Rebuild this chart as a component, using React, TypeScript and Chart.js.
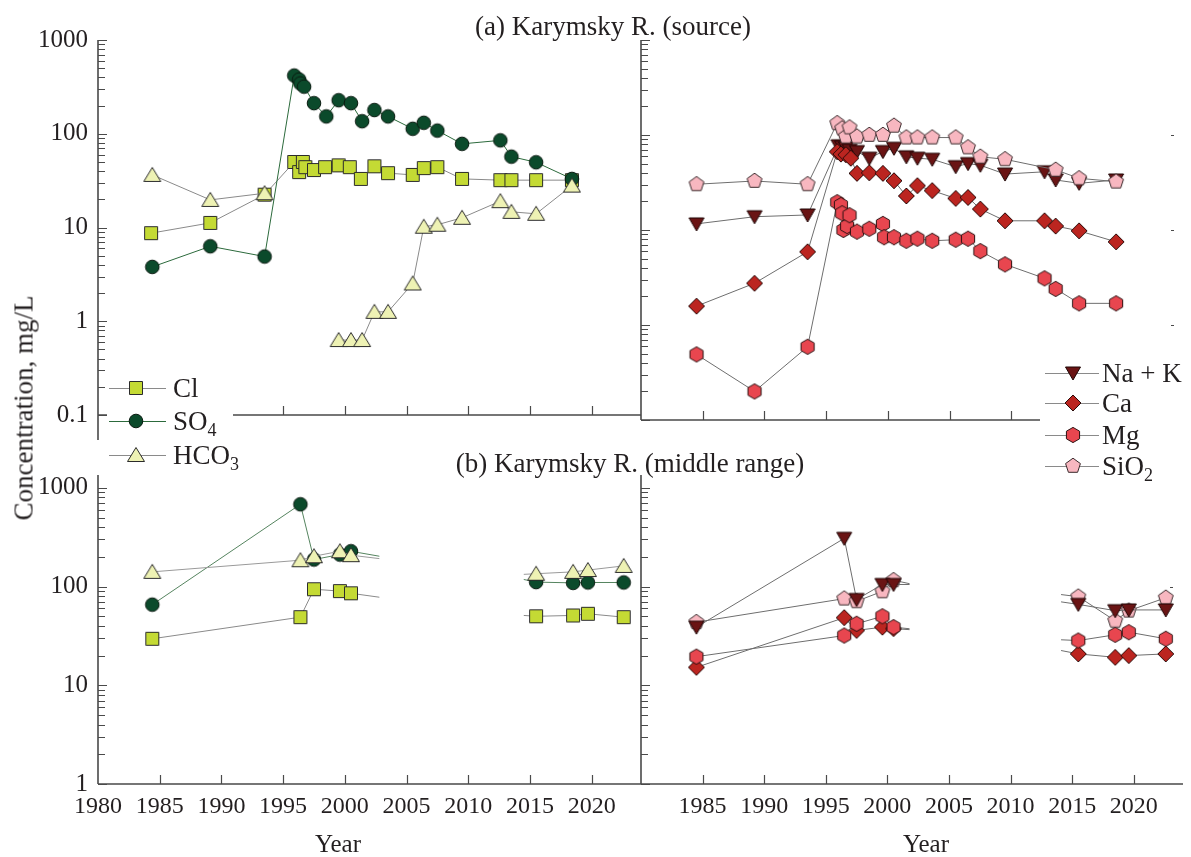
import React, { useEffect, useRef } from 'react';
import { Chart, registerables } from 'chart.js';
Chart.register(...registerables);

// ---------- data ----------
const YEAR_TICKS = [1980, 1985, 1990, 1995, 2000, 2005, 2010, 2015, 2020];
const Y_LABELS = [0.1, 1, 10, 100, 1000];

// (a) Karymsky R. (source) — anions
const aClYears = [1984.3, 1989.1, 1993.5, 1995.9, 1996.3, 1996.6, 1996.8, 1997.5, 1998.4, 1999.5, 2000.4, 2001.3, 2002.4, 2003.5, 2005.5, 2006.4, 2007.5, 2009.5, 2012.6, 2013.5, 2015.5, 2018.4];
const aClValues = [8.7, 11.2, 22.4, 50, 39, 50, 44, 41, 44, 46, 44, 33, 45, 38, 36.4, 43, 44, 33, 32, 32, 32, 32];
const aSo4Years = [1984.4, 1989.1, 1993.5, 1995.9, 1996.3, 1996.4, 1996.7, 1997.5, 1998.5, 1999.5, 2000.5, 2001.4, 2002.4, 2003.5, 2005.5, 2006.4, 2007.5, 2009.5, 2012.6, 2013.5, 2015.5, 2018.4];
const aSo4Values = [3.8, 6.3, 4.9, 418, 379, 344, 318, 212, 153, 228, 212, 136, 179, 153, 113, 131, 108, 78, 85, 57, 49.6, 33];
const aHco3Years = [1984.4, 1989.1, 1993.5, 1996.5, 1999.5, 2000.5, 2001.4, 2002.4, 2003.5, 2005.5, 2006.4, 2007.5, 2009.5, 2012.6, 2013.5, 2015.5, 2018.4];
const aHco3Values = [36.4, 19.7, 23.2, null, 0.63, 0.63, 0.63, 1.26, 1.26, 2.53, 10.2, 10.7, 12.7, 19.1, 14.7, 14, 28];

// (a) Karymsky R. (source) — cations and silica
const aNaKYears = [1984.5, 1989.2, 1993.5, 1996.0, 1996.3, 1996.6, 1996.9, 1997.5, 1998.5, 1999.6, 2000.5, 2001.5, 2002.4, 2003.6, 2005.5, 2006.5, 2007.5, 2009.5, 2012.7, 2013.6, 2015.5, 2018.5];
const aNaKValues = [11.6, 13.8, 14.4, 77, 75, 73, 69, 67, 57, 67, 72.5, 59, 57, 55.5, 46.4, 50, 48, 38.8, 41, 33.6, 31, 33.6];
const aCaYears = [1984.5, 1989.2, 1993.5, 1995.9, 1996.2, 1996.6, 1997.0, 1997.5, 1998.5, 1999.6, 2000.5, 2001.5, 2002.4, 2003.6, 2005.5, 2006.5, 2007.5, 2009.5, 2012.7, 2013.6, 2015.5, 2018.5];
const aCaValues = [1.58, 2.75, 5.9, 66.7, 63, 62, 57, 39.5, 40, 39.5, 33, 22.8, 29.3, 26, 21.5, 22, 16.6, 12.5, 12.5, 11, 9.8, 7.5];
const aMgYears = [1984.5, 1989.2, 1993.5, 1995.9, 1996.2, 1996.3, 1996.4, 1996.7, 1996.9, 1997.5, 1998.5, 1999.6, 1999.7, 2000.5, 2001.5, 2002.4, 2003.6, 2005.5, 2006.5, 2007.5, 2009.5, 2012.7, 2013.6, 2015.5, 2018.5];
const aMgValues = [0.49, 0.2, 0.59, 19.6, 18.3, 15, 10, 11, 14.3, 9.6, 10.3, 11.6, 8.4, 8.4, 7.7, 8.1, 7.7, 7.9, 8.1, 6.0, 4.35, 3.1, 2.4, 1.69, 1.69];
const aSiO2Years = [1984.5, 1989.2, 1993.5, 1995.9, 1996.3, 1996.6, 1996.9, 1997.5, 1998.5, 1999.6, 2000.5, 2001.5, 2002.4, 2003.6, 2005.5, 2006.5, 2007.5, 2009.5, 2013.6, 2015.5, 2018.5];
const aSiO2Values = [30.3, 32.8, 30.3, 133, 117, 96, 120, 96, 100, 100, 125, 94, 94, 94, 94, 74, 59, 55.5, 43, 35, 32.3];

// (b) Karymsky R. (middle range) — anions (stub = line end without a marker)
const bAnionYears = [1984.4, 1996.4, 1997.5, 1999.6, 2000.5, 2002.8, 2008.0, 2014.5, 2015.5, 2018.5, 2019.7, 2022.6];
const bAnionStub = [false, false, false, false, false, true, false, true, false, false, false, false];
const bClValues = [29.6, 49, 94, 90, 85.5, 78, null, 51, 50, 51, 53, 49];
const bSo4Values = [65.6, 682, 188, 211, 228, 203, null, 118, 111, 109, 110, 110];
const bHco3Values = [141, 185, 203, 228, 208, 192, null, 133, 135, 141, 147, 162];

// (b) Karymsky R. (middle range) — cations and silica
const bCationYears = [1984.5, 1996.5, 1997.5, 1999.6, 2000.5, 2001.8, 2008.0, 2014.1, 2015.5, 2018.5, 2019.6, 2022.6];
const bCationStub = [false, false, false, false, false, true, false, true, false, false, false, false];
const bNaKValues = [38.8, 308, 74, 105, 105, 105, null, 70, 66, 57, 58, 58];
const bCaValues = [15.2, 48.4, 36, 38.8, 37.5, 36.6, null, 22.5, 20.8, 19.2, 20, 20.8];
const bMgValues = [19.5, 31.9, 42, 50, 38.8, 37.4, null, 28.9, 28.4, 32.5, 34.5, 29.6];
const bSiO2Values = [43.6, 75.5, 71, 89.5, 116, 107, null, 83, 79, 45, 57, 77];

// ---------- styling ----------
const SERIF = '"Liberation Serif", "Times New Roman", "DejaVu Serif", serif';
const TEXT = '#231f20';
const AXIS = '#4a4a4a';
const GRAY_LINE = '#8a8a8a';
const DARK_LINE = '#6e6e6e';

type Markers = Record<string, HTMLCanvasElement>;

function makeMarker(shape: string, fill: string, stroke: string): HTMLCanvasElement {
  const c = document.createElement('canvas');
  const S = 20;
  c.width = S;
  c.height = S;
  const g = c.getContext('2d')!;
  g.translate(S / 2, S / 2);
  g.beginPath();
  const poly = (n: number, r: number, rx = r) => {
    for (let k = 0; k < n; k++) {
      const a = -Math.PI / 2 + (2 * Math.PI * k) / n;
      const px = Math.cos(a) * rx;
      const py = Math.sin(a) * r;
      if (k === 0) g.moveTo(px, py);
      else g.lineTo(px, py);
    }
    g.closePath();
  };
  switch (shape) {
    case 'square':
      g.rect(-6.5, -6.5, 13, 13);
      break;
    case 'circle':
      g.arc(0, 0, 6.8, 0, Math.PI * 2);
      break;
    case 'triUp':
      g.moveTo(0, -7.5);
      g.lineTo(8.5, 6.5);
      g.lineTo(-8.5, 6.5);
      g.closePath();
      break;
    case 'triDown':
      g.moveTo(-7.5, -6);
      g.lineTo(7.5, -6);
      g.lineTo(0, 7);
      g.closePath();
      break;
    case 'diamond':
      g.moveTo(0, -8);
      g.lineTo(8, 0);
      g.lineTo(0, 8);
      g.lineTo(-8, 0);
      g.closePath();
      break;
    case 'hexagon':
      poly(6, 7.6, 7.6);
      break;
    case 'pentagon':
      poly(5, 7.8, 7.8);
      break;
  }
  g.fillStyle = fill;
  g.fill();
  g.lineWidth = 1;
  g.strokeStyle = stroke;
  g.stroke();
  return c;
}

function makeMarkers(): Markers {
  return {
    cl: makeMarker('square', '#c4da34', '#2b2b2b'),
    so4: makeMarker('circle', '#0b4a2b', '#0a1a10'),
    hco3: makeMarker('triUp', '#eef2b4', '#2b2b2b'),
    nak: makeMarker('triDown', '#6a1414', '#1e0505'),
    ca: makeMarker('diamond', '#bb2520', '#2a0a08'),
    mg: makeMarker('hexagon', '#e8464f', '#2b1010'),
    sio2: makeMarker('pentagon', '#f8b7c0', '#3a2a2c'),
  };
}

function series(label: string, years: number[], values: (number | null)[], marker: HTMLCanvasElement, line: string, stub?: boolean[]) {
  return {
    label,
    data: years.map((x, i) => ({ x, y: values[i] })),
    borderColor: line,
    backgroundColor: line,
    borderWidth: 1,
    pointStyle: marker,
    pointRadius: stub ? (c: any) => (stub[c.dataIndex] ? 0 : 6) : 6,
    tension: 0,
    spanGaps: false,
  };
}

const axesPlugin = {
  id: 'panelAxes',
  beforeDatasetsDraw(chart: any, _args: any, opts: any) {
    const { ctx, chartArea: a, scales } = chart;
    const x = scales.x;
    const y = scales.y;
    ctx.save();
    ctx.strokeStyle = AXIS;
    ctx.lineWidth = 1.6;
    ctx.beginPath();
    ctx.moveTo(a.left, a.top);
    ctx.lineTo(a.left, a.bottom + (opts.yExtend || 0));
    ctx.moveTo(a.left, a.bottom);
    ctx.lineTo(a.right, a.bottom);
    ctx.stroke();
    ctx.lineWidth = 1.2;
    ctx.beginPath();
    const lmin = Math.floor(Math.log10(y.min));
    const lmax = Math.ceil(Math.log10(y.max));
    for (let d = lmin; d <= lmax; d++) {
      for (let m = 1; m <= 9; m++) {
        const v = m * Math.pow(10, d);
        if (v < y.min * 0.999 || v > y.max * 1.001) continue;
        const py = Math.round(y.getPixelForValue(v)) + 0.5;
        const len = m === 1 ? 9 : 7;
        ctx.moveTo(a.left, py);
        ctx.lineTo(a.left + len, py);
      }
    }
    for (const yr of YEAR_TICKS) {
      if (yr === 1980) continue;
      const px = Math.round(x.getPixelForValue(yr)) + 0.5;
      ctx.moveTo(px, a.bottom);
      ctx.lineTo(px, a.bottom - 9);
    }
    for (const v of opts.mirror || []) {
      const py = Math.round(y.getPixelForValue(v)) + 0.5;
      ctx.moveTo(a.right - 13, py);
      ctx.lineTo(a.right - 10, py);
    }
    ctx.stroke();
    ctx.restore();
  },
};

type Panel = {
  datasets: any[];
  yMin: number;
  yMax: number;
  yAxisWidth: number;
  xAxisHeight: number;
  padTop: number;
  padRight: number;
  showYLabels: boolean;
  showXLabels: boolean;
  firstXLabel: boolean;
  yExtend: number;
  mirror: number[];
};

function makeConfig(p: Panel): any {
  return {
    type: 'line',
    data: { datasets: p.datasets },
    plugins: [axesPlugin],
    options: {
      responsive: false,
      animation: false,
      events: [],
      layout: { padding: { top: p.padTop, right: p.padRight, left: 0, bottom: 0 } },
      plugins: {
        legend: { display: false },
        tooltip: { enabled: false },
        panelAxes: { yExtend: p.yExtend, mirror: p.mirror },
      },
      scales: {
        x: {
          type: 'linear',
          min: 1980,
          max: 2024,
          bounds: 'data',
          afterFit: (s: any) => {
            s.height = p.xAxisHeight;
          },
          grid: { display: false, drawTicks: false },
          border: { display: false },
          ticks: {
            display: p.showXLabels,
            stepSize: 5,
            autoSkip: false,
            maxRotation: 0,
            minRotation: 0,
            padding: 8,
            color: TEXT,
            font: { family: SERIF, size: 24 },
            callback: (v: number) =>
              YEAR_TICKS.includes(v) && (p.firstXLabel || v !== 1980) ? String(v) : '',
          },
        },
        y: {
          type: 'logarithmic',
          min: p.yMin,
          max: p.yMax,
          bounds: 'data',
          afterFit: (s: any) => {
            s.width = p.yAxisWidth;
          },
          grid: { display: false, drawTicks: false },
          border: { display: false },
          ticks: {
            display: p.showYLabels,
            autoSkip: false,
            padding: 10,
            color: TEXT,
            font: { family: SERIF, size: 25 },
            callback: (v: number) => {
              const m = Y_LABELS.find((t) => Math.abs(t - v) < t * 1e-6);
              return m !== undefined ? String(m) : '';
            },
          },
        },
      },
    },
  };
}

function drawLegend(
  ctx: CanvasRenderingContext2D,
  items: { y: number; marker: HTMLCanvasElement; line: string; main: string; sub?: string }[],
  x0: number,
  x1: number,
  xm: number,
  xt: number
) {
  for (const it of items) {
    ctx.strokeStyle = it.line;
    ctx.lineWidth = 1;
    ctx.beginPath();
    ctx.moveTo(x0, it.y + 0.5);
    ctx.lineTo(x1, it.y + 0.5);
    ctx.stroke();
    ctx.drawImage(it.marker, xm - 10, it.y - 10);
    ctx.fillStyle = TEXT;
    ctx.textBaseline = 'alphabetic';
    ctx.font = `27px ${SERIF}`;
    ctx.fillText(it.main, xt, it.y + 9);
    if (it.sub) {
      const w = ctx.measureText(it.main).width;
      ctx.font = `18px ${SERIF}`;
      ctx.fillText(it.sub, xt + w, it.y + 15);
    }
  }
}

export default function App() {
  const tl = useRef<HTMLCanvasElement>(null);
  const tr = useRef<HTMLCanvasElement>(null);
  const bl = useRef<HTMLCanvasElement>(null);
  const br = useRef<HTMLCanvasElement>(null);
  const lg = useRef<HTMLCanvasElement>(null);

  useEffect(() => {
    const M = makeMarkers();
    const charts: Chart[] = [];

    charts.push(
      new Chart(tl.current!, makeConfig({
        datasets: [
          series('HCO3', aHco3Years, aHco3Values, M.hco3, GRAY_LINE),
          series('SO4', aSo4Years, aSo4Values, M.so4, '#2c6a3c'),
          series('Cl', aClYears, aClValues, M.cl, GRAY_LINE),
        ],
        yMin: 0.1, yMax: 1000, yAxisWidth: 98, xAxisHeight: 20, padTop: 40, padRight: 19,
        showYLabels: true, showXLabels: false, firstXLabel: true, yExtend: 56, mirror: [],
      }))
    );
    charts.push(
      new Chart(tr.current!, makeConfig({
        datasets: [
          series('SiO2', aSiO2Years, aSiO2Values, M.sio2, DARK_LINE),
          series('Mg', aMgYears, aMgValues, M.mg, DARK_LINE),
          series('Ca', aCaYears, aCaValues, M.ca, DARK_LINE),
          series('Na + K', aNaKYears, aNaKValues, M.nak, DARK_LINE),
        ],
        yMin: 0.1, yMax: 1000, yAxisWidth: 21, xAxisHeight: 20, padTop: 40, padRight: 7,
        showYLabels: false, showXLabels: false, firstXLabel: false, yExtend: 0, mirror: [1, 10, 100],
      }))
    );
    charts.push(
      new Chart(bl.current!, makeConfig({
        datasets: [
          series('HCO3', bAnionYears, bHco3Values, M.hco3, '#9a9a9a', bAnionStub),
          series('SO4', bAnionYears, bSo4Values, M.so4, '#55845f', bAnionStub),
          series('Cl', bAnionYears, bClValues, M.cl, GRAY_LINE, bAnionStub),
        ],
        yMin: 1, yMax: 1350, yAxisWidth: 98, xAxisHeight: 73, padTop: 35, padRight: 19,
        showYLabels: true, showXLabels: true, firstXLabel: true, yExtend: 0, mirror: [],
      }))
    );
    charts.push(
      new Chart(br.current!, makeConfig({
        datasets: [
          series('Na + K', bCationYears, bNaKValues, M.nak, DARK_LINE, bCationStub),
          series('SiO2', bCationYears, bSiO2Values, M.sio2, DARK_LINE, bCationStub),
          series('Mg', bCationYears, bMgValues, M.mg, DARK_LINE, bCationStub),
          series('Ca', bCationYears, bCaValues, M.ca, DARK_LINE, bCationStub),
        ],
        yMin: 1, yMax: 1350, yAxisWidth: 21, xAxisHeight: 73, padTop: 35, padRight: 7,
        showYLabels: false, showXLabels: true, firstXLabel: false, yExtend: 0, mirror: [100],
      }))
    );

    const c = lg.current!;
    const ctx = c.getContext('2d')!;
    ctx.clearRect(0, 0, c.width, c.height);
    ctx.fillStyle = '#ffffff';
    ctx.fillRect(107, 368, 126, 108);
    ctx.fillRect(1040, 352, 151, 130);
    drawLegend(ctx, [
      { y: 388, marker: M.cl, line: GRAY_LINE, main: 'Cl' },
      { y: 421, marker: M.so4, line: '#2c6a3c', main: 'SO', sub: '4' },
      { y: 455, marker: M.hco3, line: GRAY_LINE, main: 'HCO', sub: '3' },
    ], 109, 166, 136, 173);
    drawLegend(ctx, [
      { y: 373, marker: M.nak, line: GRAY_LINE, main: 'Na + K' },
      { y: 403, marker: M.ca, line: GRAY_LINE, main: 'Ca' },
      { y: 435, marker: M.mg, line: GRAY_LINE, main: 'Mg' },
      { y: 466, marker: M.sio2, line: GRAY_LINE, main: 'SiO', sub: '2' },
    ], 1045, 1099, 1073, 1102);

    return () => {
      charts.forEach((ch) => ch.destroy());
    };
  }, []);

  const abs: React.CSSProperties = { position: 'absolute' };
  const label = (text: React.ReactNode, x: number, y: number, size: number, rotate = 0): React.ReactNode => (
    <div
      style={{
        position: 'absolute',
        left: x,
        top: y,
        transform: `translate(-50%, -50%)${rotate ? ` rotate(${rotate}deg)` : ''}`,
        whiteSpace: 'nowrap',
        fontSize: size,
        lineHeight: 1,
        fontFamily: SERIF,
        color: TEXT,
      }}
    >
      {text}
    </div>
  );

  return (
    <div style={{ position: 'absolute', left: 0, top: 0, width: 1191, height: 857, background: '#fff', overflow: 'hidden' }}>
      <canvas ref={tl} width={660} height={440} style={{ ...abs, left: 0, top: 0 }} />
      <canvas ref={tr} width={571} height={440} style={{ ...abs, left: 620, top: 0 }} />
      <canvas ref={bl} width={660} height={417} style={{ ...abs, left: 0, top: 440 }} />
      <canvas ref={br} width={571} height={417} style={{ ...abs, left: 620, top: 440 }} />
      <canvas ref={lg} width={1191} height={857} style={{ ...abs, left: 0, top: 0, pointerEvents: 'none' }} />
      {label('(a) Karymsky R. (source)', 613, 26, 27)}
      {label('(b) Karymsky R. (middle range)', 630, 463, 27)}
      {label('Concentration, mg/L', 24, 408, 27, -90)}
      {label('Year', 338, 843, 25)}
      {label('Year', 926, 843, 25)}
    </div>
  );
}
